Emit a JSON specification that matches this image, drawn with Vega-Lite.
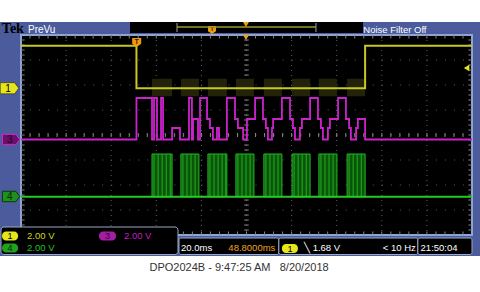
{
  "$schema": "https://vega.github.io/schema/vega-lite/v6.json",
  "width": 451,
  "height": 200,
  "autosize": {"type": "none"},
  "padding": {"left": 21, "top": 35, "right": 8, "bottom": 57},
  "background": "white",
  "config": {"view": {"stroke": null}, "axis": {"disable": true}},
  "datasets": {
    "ch1": [{"t": -51.2, "v": 3.57}, {"t": 0, "v": 1.87}, {"t": 101.4, "v": 3.57}, {"t": 148.8, "v": 3.57}],
    "ch3": [
      {"t": -51.2, "v": -0.18}, {"t": 0, "v": 1.48}, {"t": 6.9, "v": -0.18}, {"t": 7.8, "v": 1.48},
      {"t": 9.1, "v": -0.18}, {"t": 10.9, "v": 1.48}, {"t": 11.8, "v": -0.18}, {"t": 15.8, "v": 0.28},
      {"t": 19.3, "v": -0.18}, {"t": 23.3, "v": 1.48}, {"t": 24.6, "v": -0.18}, {"t": 25.1, "v": 0.64},
      {"t": 27.3, "v": -0.18}, {"t": 28.2, "v": 1.48}, {"t": 31.3, "v": 0.64}, {"t": 32.6, "v": 0.28},
      {"t": 33.9, "v": -0.18}, {"t": 35.7, "v": 0.28}, {"t": 36.6, "v": -0.18}, {"t": 40.1, "v": 1.48},
      {"t": 43.7, "v": 0.64}, {"t": 45.0, "v": 0.28}, {"t": 47.3, "v": -0.18}, {"t": 49.0, "v": 0.64},
      {"t": 52.6, "v": 1.48}, {"t": 56.1, "v": 0.64}, {"t": 57.4, "v": 0.28}, {"t": 58.3, "v": -0.18},
      {"t": 60.1, "v": 0.28}, {"t": 60.6, "v": 0.64}, {"t": 64.5, "v": 1.48}, {"t": 68.1, "v": 0.64},
      {"t": 69.4, "v": 0.28}, {"t": 70.3, "v": -0.18}, {"t": 72.5, "v": 0.28}, {"t": 73.4, "v": 0.64},
      {"t": 77.0, "v": 1.48}, {"t": 80.5, "v": 0.64}, {"t": 81.8, "v": 0.28}, {"t": 82.7, "v": -0.18},
      {"t": 84.9, "v": 0.28}, {"t": 85.8, "v": 0.64}, {"t": 89.4, "v": 1.48}, {"t": 92.9, "v": 0.64},
      {"t": 94.3, "v": 0.28}, {"t": 95.1, "v": -0.18}, {"t": 97.4, "v": 0.28}, {"t": 98.2, "v": 0.64},
      {"t": 101.4, "v": -0.18}, {"t": 148.8, "v": -0.18}
    ],
    "ch4": [{"t": -51.2, "v": -2.47}, {"t": 148.8, "v": -2.47}],
    "bursts": [
      {"start": 6.9, "end": 15.8, "lo": -2.47, "hi": -0.76},
      {"start": 19.7, "end": 27.7, "lo": -2.47, "hi": -0.76},
      {"start": 31.7, "end": 40.1, "lo": -2.47, "hi": -0.76},
      {"start": 44.1, "end": 52.1, "lo": -2.47, "hi": -0.76},
      {"start": 56.5, "end": 64.5, "lo": -2.47, "hi": -0.76},
      {"start": 69.0, "end": 77.0, "lo": -2.47, "hi": -0.76},
      {"start": 80.9, "end": 88.9, "lo": -2.47, "hi": -0.76},
      {"start": 93.4, "end": 101.4, "lo": -2.47, "hi": -0.76}
    ],
    "pulses": [
      {"t": 7.8}, {"t": 9.6}, {"t": 11.4}, {"t": 13.2}, {"t": 15.0},
      {"t": 20.6}, {"t": 22.4}, {"t": 24.2}, {"t": 26.0},
      {"t": 32.6}, {"t": 34.4}, {"t": 36.2}, {"t": 38.0}, {"t": 39.6},
      {"t": 45.0}, {"t": 46.8}, {"t": 48.6}, {"t": 50.4},
      {"t": 57.4}, {"t": 59.2}, {"t": 61.0}, {"t": 62.8},
      {"t": 69.9}, {"t": 71.7}, {"t": 73.5}, {"t": 75.3},
      {"t": 81.8}, {"t": 83.6}, {"t": 85.4}, {"t": 87.2},
      {"t": 94.3}, {"t": 96.1}, {"t": 97.9}, {"t": 99.7}
    ],
    "gx": [{"t": -31.2}, {"t": -11.2}, {"t": 8.8}, {"t": 28.8}, {"t": 48.8}, {"t": 68.8}, {"t": 88.8}, {"t": 108.8}, {"t": 128.8}],
    "gy": [{"v": -3}, {"v": -2}, {"v": -1}, {"v": 0}, {"v": 1}, {"v": 2}, {"v": 3}],
    "mx": [
      {"t": -47.2}, {"t": -43.2}, {"t": -39.2}, {"t": -35.2}, {"t": -31.2}, {"t": -27.2}, {"t": -23.2}, {"t": -19.2},
      {"t": -15.2}, {"t": -11.2}, {"t": -7.2}, {"t": -3.2}, {"t": 0.8}, {"t": 4.8}, {"t": 8.8}, {"t": 12.8},
      {"t": 16.8}, {"t": 20.8}, {"t": 24.8}, {"t": 28.8}, {"t": 32.8}, {"t": 36.8}, {"t": 40.8}, {"t": 44.8},
      {"t": 48.8}, {"t": 52.8}, {"t": 56.8}, {"t": 60.8}, {"t": 64.8}, {"t": 68.8}, {"t": 72.8}, {"t": 76.8},
      {"t": 80.8}, {"t": 84.8}, {"t": 88.8}, {"t": 92.8}, {"t": 96.8}, {"t": 100.8}, {"t": 104.8}, {"t": 108.8},
      {"t": 112.8}, {"t": 116.8}, {"t": 120.8}, {"t": 124.8}, {"t": 128.8}, {"t": 132.8}, {"t": 136.8}, {"t": 140.8},
      {"t": 144.8}
    ],
    "my": [
      {"v": -3.8}, {"v": -3.6}, {"v": -3.4}, {"v": -3.2}, {"v": -3.0}, {"v": -2.8}, {"v": -2.6}, {"v": -2.4},
      {"v": -2.2}, {"v": -2.0}, {"v": -1.8}, {"v": -1.6}, {"v": -1.4}, {"v": -1.2}, {"v": -1.0}, {"v": -0.8},
      {"v": -0.6}, {"v": -0.4}, {"v": -0.2}, {"v": 0}, {"v": 0.2}, {"v": 0.4}, {"v": 0.6}, {"v": 0.8},
      {"v": 1.0}, {"v": 1.2}, {"v": 1.4}, {"v": 1.6}, {"v": 1.8}, {"v": 2.0}, {"v": 2.2}, {"v": 2.4},
      {"v": 2.6}, {"v": 2.8}, {"v": 3.0}, {"v": 3.2}, {"v": 3.4}, {"v": 3.6}, {"v": 3.8}
    ]
  },
  "layer": [
    {
      "data": {"values": [{}]},
      "mark": {"type": "rect", "color": "#4b5b9b"},
      "encoding": {
        "x": {"datum": -60.51, "type": "quantitative", "scale": {"domain": [-51.2, 148.8], "nice": false, "zero": false}},
        "x2": {"datum": 152.35},
        "y": {"datum": 4.52, "type": "quantitative", "scale": {"domain": [-4, 4], "nice": false, "zero": false}},
        "y2": {"datum": -4.84}
      }
    },
    {
      "data": {"values": [{}]},
      "mark": {"type": "rect", "color": "#000000"},
      "encoding": {"x": {"datum": -2.86}, "x2": {"datum": 100.47}, "y": {"datum": 4.52}, "y2": {"datum": 4.08}}
    },
    {
      "data": {"values": [{}]},
      "mark": {"type": "rect", "fill": "#000000", "stroke": "#8ea4d2", "strokeWidth": 2},
      "encoding": {"x": {"datum": -51.2}, "x2": {"datum": 148.8}, "y": {"datum": 4}, "y2": {"datum": -4}}
    },
    {
      "data": {"name": "gx"},
      "mark": {"type": "rule", "color": "#5e5e5e", "strokeDash": [1, 4], "strokeWidth": 1},
      "encoding": {"x": {"field": "t", "type": "quantitative"}, "y": {"datum": 4}, "y2": {"datum": -4}}
    },
    {
      "data": {"name": "gy"},
      "mark": {"type": "rule", "color": "#5e5e5e", "strokeDash": [1, 8.02], "strokeWidth": 1},
      "encoding": {"y": {"field": "v", "type": "quantitative"}, "x": {"datum": -51.2}, "x2": {"datum": 148.8}}
    },
    {
      "data": {"name": "mx"},
      "mark": {"type": "rule", "color": "#858585", "strokeWidth": 1},
      "encoding": {"x": {"field": "t", "type": "quantitative"}, "y": {"datum": 4}, "y2": {"datum": 3.86}}
    },
    {
      "data": {"name": "mx"},
      "mark": {"type": "rule", "color": "#858585", "strokeWidth": 1},
      "encoding": {"x": {"field": "t", "type": "quantitative"}, "y": {"datum": -4}, "y2": {"datum": -3.86}}
    },
    {
      "data": {"name": "mx"},
      "mark": {"type": "rule", "color": "#858585", "strokeWidth": 1},
      "encoding": {"x": {"field": "t", "type": "quantitative"}, "y": {"datum": 0.08}, "y2": {"datum": -0.08}}
    },
    {
      "data": {"name": "my"},
      "mark": {"type": "rule", "color": "#858585", "strokeWidth": 1},
      "encoding": {"y": {"field": "v", "type": "quantitative"}, "x": {"datum": -51.2}, "x2": {"datum": -49.6}}
    },
    {
      "data": {"name": "my"},
      "mark": {"type": "rule", "color": "#858585", "strokeWidth": 1},
      "encoding": {"y": {"field": "v", "type": "quantitative"}, "x": {"datum": 148.8}, "x2": {"datum": 147.2}}
    },
    {
      "data": {"name": "my"},
      "mark": {"type": "rule", "color": "#858585", "strokeWidth": 1},
      "encoding": {"y": {"field": "v", "type": "quantitative"}, "x": {"datum": 47.8}, "x2": {"datum": 49.8}}
    },
    {
      "data": {"name": "bursts"},
      "mark": {"type": "rect", "color": "#23230a", "opacity": 1},
      "encoding": {"x": {"field": "start", "type": "quantitative"}, "x2": {"field": "end"}, "y": {"datum": 2.25}, "y2": {"datum": 1.55}}
    },
    {
      "data": {"name": "bursts"},
      "mark": {"type": "rect", "fill": "#0b550b", "stroke": "#22bb22", "strokeWidth": 1},
      "encoding": {"x": {"field": "start", "type": "quantitative"}, "x2": {"field": "end"}, "y": {"field": "lo", "type": "quantitative"}, "y2": {"field": "hi"}}
    },
    {
      "data": {"name": "pulses"},
      "mark": {"type": "rule", "color": "#1fae1f", "strokeWidth": 1},
      "encoding": {"x": {"field": "t", "type": "quantitative"}, "y": {"datum": -2.47}, "y2": {"datum": -0.76}}
    },
    {
      "data": {"name": "ch4"},
      "mark": {"type": "line", "color": "#22cc22", "strokeWidth": 2},
      "encoding": {"x": {"field": "t", "type": "quantitative"}, "y": {"field": "v", "type": "quantitative"}}
    },
    {
      "data": {"name": "ch3"},
      "mark": {"type": "line", "color": "#cc22cc", "strokeWidth": 1.8, "interpolate": "step-after"},
      "encoding": {"x": {"field": "t", "type": "quantitative"}, "y": {"field": "v", "type": "quantitative"}}
    },
    {
      "data": {"name": "ch1"},
      "mark": {"type": "line", "color": "#c8c824", "strokeWidth": 2, "interpolate": "step-after"},
      "encoding": {"x": {"field": "t", "type": "quantitative"}, "y": {"field": "v", "type": "quantitative"}}
    },
    {
      "data": {"values": [{}]},
      "mark": {"type": "point", "shape": "M-1,-0.6L0.55,-0.6L1,0L0.55,0.6L-1,0.6Z", "size": 340, "filled": true, "fill": "#e6e61a", "stroke": "#202000", "strokeWidth": 0.5, "opacity": 1},
      "encoding": {"x": {"datum": -56.3}, "y": {"datum": 1.87}}
    },
    {
      "data": {"values": [{}]},
      "mark": {"type": "point", "shape": "M-1,-0.6L0.55,-0.6L1,0L0.55,0.6L-1,0.6Z", "size": 300, "filled": true, "fill": "#6a106a", "stroke": "#d02ad0", "strokeWidth": 1, "opacity": 1},
      "encoding": {"x": {"datum": -55.6}, "y": {"datum": -0.18}}
    },
    {
      "data": {"values": [{}]},
      "mark": {"type": "point", "shape": "M-1,-0.6L0.55,-0.6L1,0L0.55,0.6L-1,0.6Z", "size": 300, "filled": true, "fill": "#1f8f1f", "stroke": "#0a3a0a", "strokeWidth": 1, "opacity": 1},
      "encoding": {"x": {"datum": -55.6}, "y": {"datum": -2.46}}
    },
    {
      "data": {"values": [{}]},
      "mark": {"type": "text", "text": "1", "font": "Liberation Sans", "fontSize": 10, "color": "#000000", "align": "center", "baseline": "middle"},
      "encoding": {"x": {"datum": -56.9}, "y": {"datum": 1.85}}
    },
    {
      "data": {"values": [{}]},
      "mark": {"type": "text", "text": "3", "font": "Liberation Sans", "fontSize": 10, "color": "#200020", "align": "center", "baseline": "middle"},
      "encoding": {"x": {"datum": -56.2}, "y": {"datum": -0.2}}
    },
    {
      "data": {"values": [{}]},
      "mark": {"type": "text", "text": "4", "font": "Liberation Sans", "fontSize": 10, "color": "#062a06", "align": "center", "baseline": "middle"},
      "encoding": {"x": {"datum": -56.2}, "y": {"datum": -2.48}}
    },
    {
      "data": {"values": [{}]},
      "mark": {"type": "point", "shape": "triangle-left", "size": 40, "filled": true, "color": "#e6e61a", "opacity": 1},
      "encoding": {"x": {"datum": 146.4}, "y": {"datum": 2.68}}
    },
    {
      "data": {"values": [{}]},
      "mark": {"type": "point", "shape": "M-1,-1L1,-1L1,0.3L0,1L-1,0.3Z", "size": 81, "filled": true, "color": "#f09a10", "opacity": 1},
      "encoding": {"x": {"datum": 0.1}, "y": {"datum": 3.7}}
    },
    {
      "data": {"values": [{}]},
      "mark": {"type": "text", "text": "T", "font": "Liberation Sans", "fontSize": 7, "fontWeight": "bold", "color": "#3a2000", "align": "center", "baseline": "middle"},
      "encoding": {"x": {"datum": 0.1}, "y": {"datum": 3.73}}
    },
    {
      "data": {"values": [{}]},
      "mark": {"type": "point", "shape": "M-1,-1L1,-1L1,0.3L0,1L-1,0.3Z", "size": 64, "filled": true, "color": "#f09a10", "opacity": 1},
      "encoding": {"x": {"datum": 33.5}, "y": {"datum": 4.2}}
    },
    {
      "data": {"values": [{}]},
      "mark": {"type": "text", "text": "T", "font": "Liberation Sans", "fontSize": 6, "fontWeight": "bold", "color": "#3a2000", "align": "center", "baseline": "middle"},
      "encoding": {"x": {"datum": 33.5}, "y": {"datum": 4.23}}
    },
    {
      "data": {"values": [{}]},
      "mark": {"type": "rule", "color": "#9a9a2a", "strokeWidth": 1.5},
      "encoding": {"x": {"datum": 17.98}, "x2": {"datum": 79.6}, "y": {"datum": 4.32}}
    },
    {
      "data": {"values": [{"t": 17.98}, {"t": 79.6}]},
      "mark": {"type": "rule", "color": "#a0a0a0", "strokeWidth": 1},
      "encoding": {"x": {"field": "t", "type": "quantitative"}, "y": {"datum": 4.48}, "y2": {"datum": 4.12}}
    },
    {
      "data": {"values": [{"v": 4.42}, {"v": 3.9}]},
      "mark": {"type": "point", "shape": "triangle-down", "size": 36, "filled": true, "color": "#f0a010", "opacity": 1},
      "encoding": {"x": {"datum": 48.56}, "y": {"field": "v", "type": "quantitative"}}
    },
    {
      "data": {"values": [{}]},
      "mark": {"type": "rect", "fill": "#000000", "stroke": "#9aa8c8", "strokeWidth": 1, "cornerRadius": 3},
      "encoding": {"x": {"datum": -60.07}, "x2": {"datum": 18.42}, "y": {"datum": -3.68}, "y2": {"datum": -4.78}}
    },
    {
      "data": {"values": [{"a": 18.86, "b": 63.15}, {"a": 63.15, "b": 124.79}, {"a": 124.79, "b": 148.8}]},
      "mark": {"type": "rect", "fill": "#000000", "stroke": "#9aa8c8", "strokeWidth": 1, "cornerRadius": 2},
      "encoding": {"x": {"field": "a", "type": "quantitative"}, "x2": {"field": "b"}, "y": {"datum": -4.12}, "y2": {"datum": -4.78}}
    },
    {
      "data": {"values": [{}]},
      "mark": {"type": "rect", "color": "#e6e61a", "cornerRadius": 4},
      "encoding": {"x": {"datum": -59.6}, "x2": {"datum": -52.5}, "y": {"datum": -3.86}, "y2": {"datum": -4.22}}
    },
    {
      "data": {"values": [{}]},
      "mark": {"type": "rect", "color": "#1fa01f", "cornerRadius": 4},
      "encoding": {"x": {"datum": -59.6}, "x2": {"datum": -52.5}, "y": {"datum": -4.34}, "y2": {"datum": -4.7}}
    },
    {
      "data": {"values": [{}]},
      "mark": {"type": "rect", "color": "#a41ea4", "cornerRadius": 4},
      "encoding": {"x": {"datum": -16.6}, "x2": {"datum": -9.07}, "y": {"datum": -3.86}, "y2": {"datum": -4.22}}
    },
    {
      "data": {"values": [{}]},
      "mark": {"type": "rect", "color": "#e6e61a", "cornerRadius": 4},
      "encoding": {"x": {"datum": 64.5}, "x2": {"datum": 71.6}, "y": {"datum": -4.36}, "y2": {"datum": -4.72}}
    },
    {
      "data": {"values": [{}]},
      "mark": {"type": "text", "text": "1", "font": "Liberation Sans", "fontSize": 9, "color": "#000000", "align": "center", "baseline": "middle"},
      "encoding": {"x": {"datum": -56.05}, "y": {"datum": -4.05}}
    },
    {
      "data": {"values": [{}]},
      "mark": {"type": "text", "text": "4", "font": "Liberation Sans", "fontSize": 9, "color": "#062a06", "align": "center", "baseline": "middle"},
      "encoding": {"x": {"datum": -56.05}, "y": {"datum": -4.53}}
    },
    {
      "data": {"values": [{}]},
      "mark": {"type": "text", "text": "3", "font": "Liberation Sans", "fontSize": 9, "color": "#3a003a", "align": "center", "baseline": "middle"},
      "encoding": {"x": {"datum": -12.8}, "y": {"datum": -4.05}}
    },
    {
      "data": {"values": [{}]},
      "mark": {"type": "text", "text": "1", "font": "Liberation Sans", "fontSize": 9, "color": "#000000", "align": "center", "baseline": "middle"},
      "encoding": {"x": {"datum": 68.05}, "y": {"datum": -4.55}}
    },
    {
      "data": {"values": [{}]},
      "mark": {"type": "text", "text": "2.00 V", "font": "Liberation Sans", "fontSize": 9.5, "color": "#d4d41c", "align": "left", "baseline": "middle"},
      "encoding": {"x": {"datum": -48.5}, "y": {"datum": -4.03}}
    },
    {
      "data": {"values": [{}]},
      "mark": {"type": "text", "text": "2.00 V", "font": "Liberation Sans", "fontSize": 9.5, "color": "#c21ec2", "align": "left", "baseline": "middle"},
      "encoding": {"x": {"datum": -5.54}, "y": {"datum": -4.03}}
    },
    {
      "data": {"values": [{}]},
      "mark": {"type": "text", "text": "2.00 V", "font": "Liberation Sans", "fontSize": 9.5, "color": "#22c022", "align": "left", "baseline": "middle"},
      "encoding": {"x": {"datum": -48.5}, "y": {"datum": -4.52}}
    },
    {
      "data": {"values": [{}]},
      "mark": {"type": "text", "text": "20.0ms", "font": "Liberation Sans", "fontSize": 9.5, "color": "#ffffff", "align": "left", "baseline": "middle"},
      "encoding": {"x": {"datum": 19.75}, "y": {"datum": -4.52}}
    },
    {
      "data": {"values": [{}]},
      "mark": {"type": "text", "text": "48.8000ms", "font": "Liberation Sans", "fontSize": 9.5, "color": "#f0a020", "align": "right", "baseline": "middle"},
      "encoding": {"x": {"datum": 61.6}, "y": {"datum": -4.52}}
    },
    {
      "data": {"values": [{}]},
      "mark": {"type": "text", "text": "╲ 1.68 V", "font": "Liberation Sans", "fontSize": 9.5, "color": "#ffffff", "align": "left", "baseline": "middle"},
      "encoding": {"x": {"datum": 74.3}, "y": {"datum": -4.52}}
    },
    {
      "data": {"values": [{}]},
      "mark": {"type": "text", "text": "< 10 Hz", "font": "Liberation Sans", "fontSize": 9.5, "color": "#ffffff", "align": "right", "baseline": "middle"},
      "encoding": {"x": {"datum": 123.9}, "y": {"datum": -4.52}}
    },
    {
      "data": {"values": [{}]},
      "mark": {"type": "text", "text": "21:50:04", "font": "Liberation Sans", "fontSize": 9.5, "color": "#ffffff", "align": "left", "baseline": "middle"},
      "encoding": {"x": {"datum": 126.0}, "y": {"datum": -4.52}}
    },
    {
      "data": {"values": [{}]},
      "mark": {"type": "text", "text": "Tek", "font": "Liberation Serif", "fontSize": 14, "fontWeight": "bold", "color": "#000000", "align": "left", "baseline": "middle"},
      "encoding": {"x": {"datum": -59.7}, "y": {"datum": 4.24}}
    },
    {
      "data": {"values": [{}]},
      "mark": {"type": "text", "text": "PreVu", "font": "Liberation Sans", "fontSize": 10, "color": "#ffffff", "align": "left", "baseline": "middle"},
      "encoding": {"x": {"datum": -48.1}, "y": {"datum": 4.22}}
    },
    {
      "data": {"values": [{}]},
      "mark": {"type": "text", "text": "Noise Filter Off", "font": "Liberation Sans", "fontSize": 9.5, "color": "#ffffff", "align": "left", "baseline": "middle"},
      "encoding": {"x": {"datum": 100.6}, "y": {"datum": 4.22}}
    },
    {
      "data": {"values": [{}]},
      "mark": {"type": "text", "text": "DPO2024B - 9:47:25 AM\u00a0\u00a0\u00a08/20/2018", "font": "Liberation Sans", "fontSize": 11, "color": "#333333", "align": "center", "baseline": "middle"},
      "encoding": {"x": {"datum": 45.5}, "y": {"datum": -5.3}}
    }
  ]
}
